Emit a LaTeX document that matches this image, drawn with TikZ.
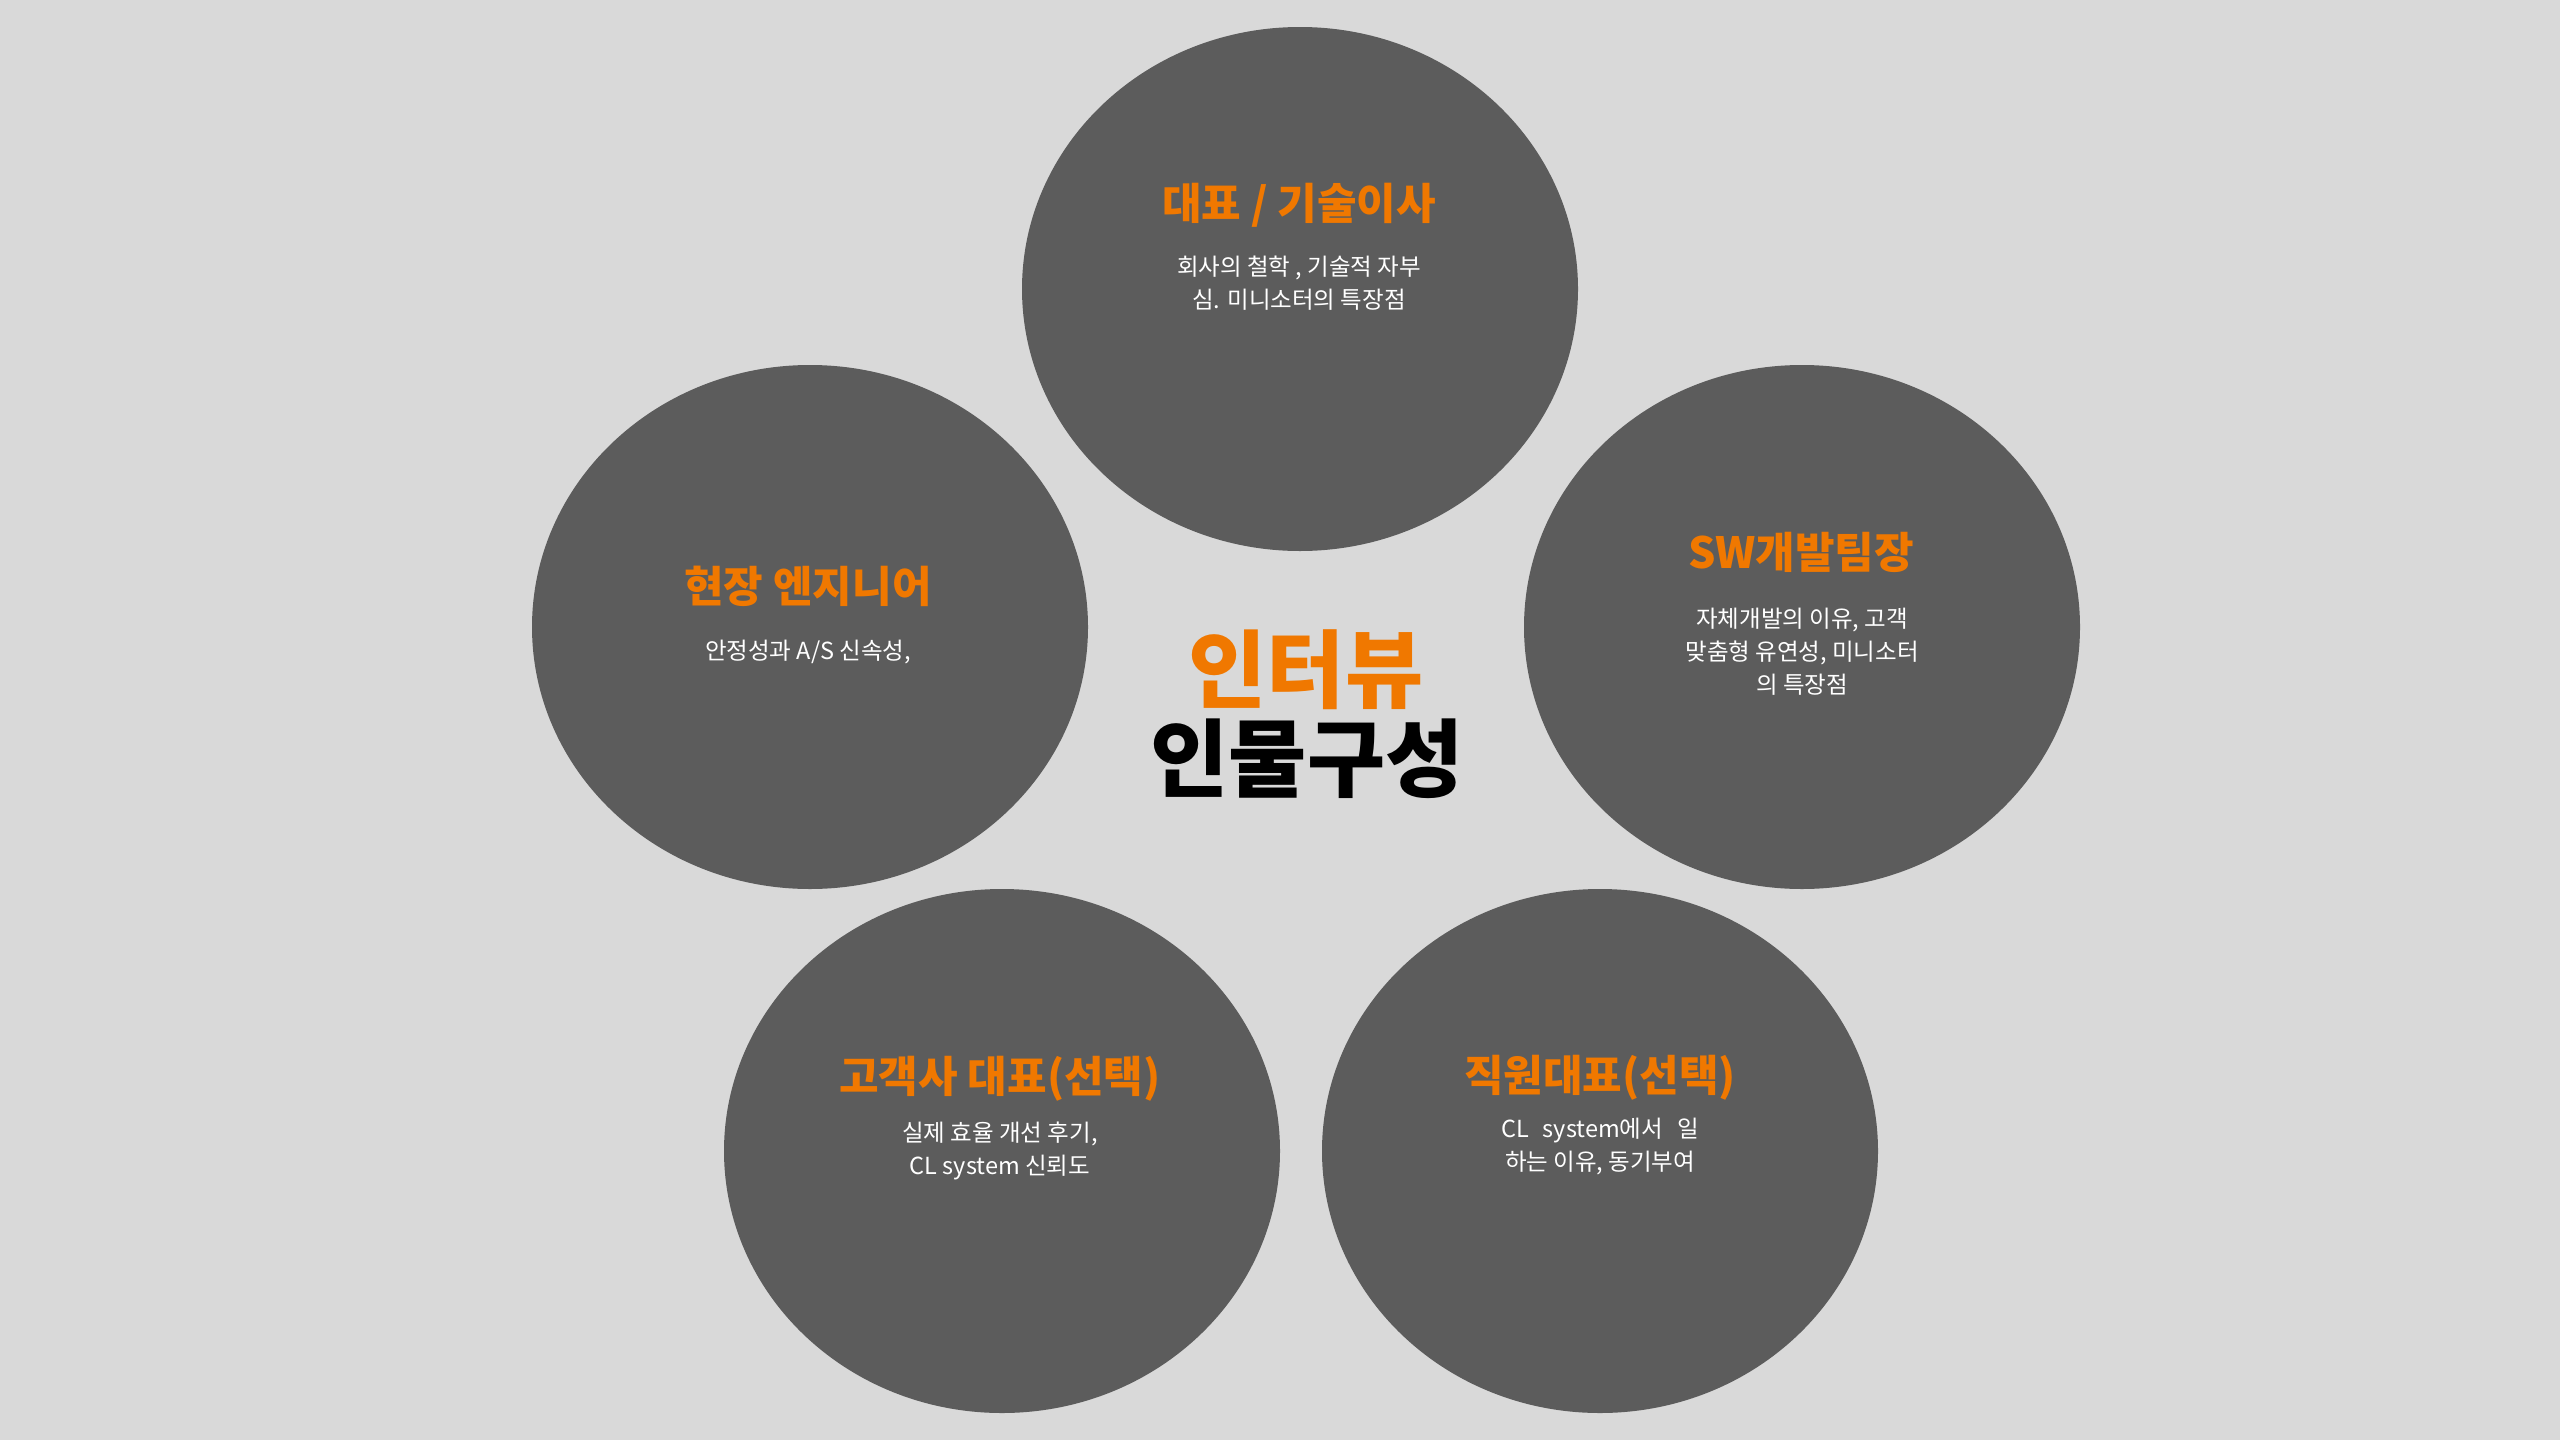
\documentclass[tikz,border=0pt]{standalone}
\usepackage{fontspec}
\usetikzlibrary{shapes.geometric}
\newfontfamily\krfont{Noto Sans CJK KR}
\definecolor{bgcol}{HTML}{D9D9D9}
\definecolor{disccol}{HTML}{5C5C5C}
\definecolor{accent}{HTML}{F07800}
\tikzset{
  disc/.style={ellipse, fill=disccol, draw=none, minimum width=556pt, minimum height=524pt, inner sep=0pt},
  roletitle/.style={text=accent, font=\krfont\bfseries\fontsize{43}{47}\selectfont, inner sep=0pt, anchor=center},
  roletext/.style={text=white, font=\krfont\fontsize{23.5}{33}\selectfont, align=center, inner sep=0pt, anchor=center},
  bigtitle/.style={font=\krfont\bfseries\fontsize{85}{92}\selectfont, inner sep=0pt, anchor=center}
}
\begin{document}
\begin{tikzpicture}[x=1pt,y=-1pt]
\fill[bgcol] (0,0) rectangle (2560,1440);
\useasboundingbox (0,0) rectangle (2560,1440);
% discs
\node[disc] (ctop) at (1300,289) {};
\node[disc] (cleft) at (810,627) {};
\node[disc] (cright) at (1802,627) {};
\node[disc] (cbl) at (1002,1151) {};
\node[disc] (cbr) at (1600,1151) {};
% top
\node[roletitle] (ttop) at (1299,205.5) {대표 / 기술이사};
\node[roletext] (btop) at (1299,283) {회사의 철학 , 기술적 자부\\심. 미니소터의 특장점};
% left
\node[roletitle] (tleft) at (808,586) {현장 엔지니어};
\node[roletext] (bleft) at (808,652) {안정성과 A/S 신속성,};
% right
\node[roletitle] (tright) at (1801,552) {SW개발팀장};
\node[roletext] (bright) at (1802,652) {자체개발의 이유, 고객\\맞춤형 유연성, 미니소터\\의 특장점};
% bottom left
\node[roletitle] (tbl) at (1000,1079) {고객사 대표(선택)};
\node[roletext] (bbl) at (1000,1151) {실제 효율 개선 후기,\\CL system 신뢰도};
% bottom right
\node[roletitle] (tbr) at (1600,1078) {직원대표(선택)};
\node[roletext] (bbr) at (1600,1146.5) {CL\hspace{0.6em}system에서\hspace{0.6em}일\\하는 이유, 동기부여};
% centre
\node[bigtitle, text=accent] (hint) at (1306,670) {인터뷰};
\node[bigtitle, text=black] (hsub) at (1307,759) {인물구성};
\end{tikzpicture}
\end{document}
